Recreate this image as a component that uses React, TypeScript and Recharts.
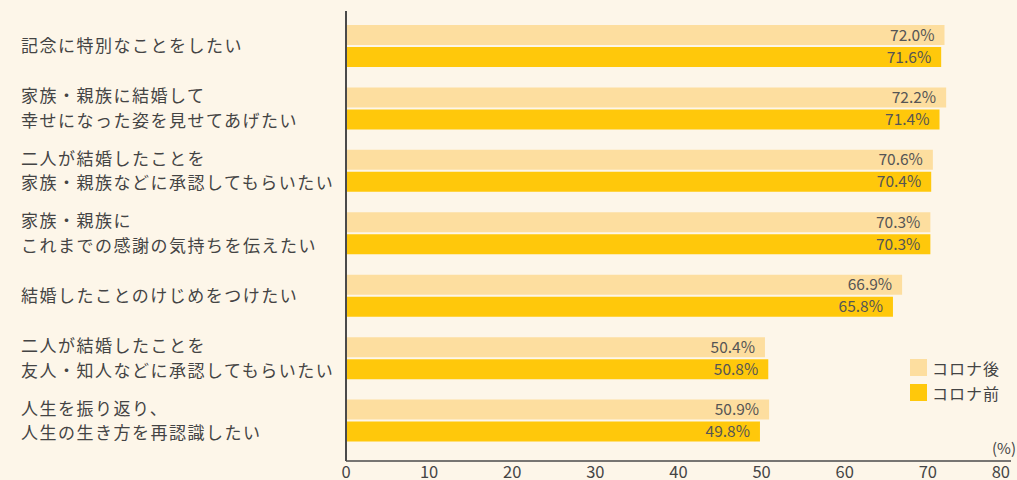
import { BarChart, Bar, XAxis, YAxis, LabelList, Legend } from "recharts";

const categories = [
  "記念に特別なことをしたい",
  "家族・親族に結婚して\n幸せになった姿を見せてあげたい",
  "二人が結婚したことを\n家族・親族などに承認してもらいたい",
  "家族・親族に\nこれまでの感謝の気持ちを伝えたい",
  "結婚したことのけじめをつけたい",
  "二人が結婚したことを\n友人・知人などに承認してもらいたい",
  "人生を振り返り、\n人生の生き方を再認識したい",
];
const afterCorona = [72.0, 72.2, 70.6, 70.3, 66.9, 50.4, 50.9];
const beforeCorona = [71.6, 71.4, 70.4, 70.3, 65.8, 50.8, 49.8];
const seriesNames = ["コロナ後", "コロナ前"];
const xTicks = [0, 10, 20, 30, 40, 50, 60, 70, 80];

const rows = categories.map((label, i) => ({
  label,
  after: afterCorona[i],
  before: beforeCorona[i],
}));

const TEXT = "#444";

const CategoryTick = (props: any) => {
  const { y, payload } = props;
  const lines = String(payload.value).split("\n");
  const lineGap = 24.5;
  return (
    <text fill={TEXT} fontSize={17} letterSpacing={1.5} textAnchor="start">
      {lines.map((line, i) => (
        <tspan key={i} x={21} y={y + (i - (lines.length - 1) / 2) * lineGap + 6}>
          {line}
        </tspan>
      ))}
    </text>
  );
};

const NumberTick = (props: any) => {
  const { x, y, payload } = props;
  const last = payload.value === xTicks[xTicks.length - 1];
  return (
    <text x={last ? x + 1 : x} y={y + 16.5} fill={TEXT} fontSize={16.5} textAnchor={last ? "end" : "middle"}>
      {payload.value}
    </text>
  );
};

const LegendBox = (props: any) => {
  const items = [...(props.payload || [])].sort(
    (a: any, b: any) => seriesNames.indexOf(a.value) - seriesNames.indexOf(b.value)
  );
  return (
    <div>
      {items.map((item: any) => (
        <div key={item.value} style={{ display: "flex", alignItems: "center", height: 25 }}>
          <span style={{ width: 17, height: 17, background: item.color, display: "inline-block", marginRight: 5 }} />
          <span style={{ fontSize: 16, color: TEXT, letterSpacing: 1 }}>{item.value}</span>
        </div>
      ))}
    </div>
  );
};

const pct = (v: any) => `${Number(v).toFixed(1)}%`;

export default function App() {
  return (
    <div
      style={{
        position: "absolute",
        left: 0,
        top: 0,
        width: 1017,
        height: 480,
        background: "#fdf6e9",
        fontFamily: "'Noto Sans CJK JP', sans-serif",
      }}
    >
      <BarChart
        layout="vertical"
        width={1017}
        height={480}
        data={rows}
        margin={{ top: 11, right: 6, bottom: 0, left: 0 }}
        barSize={20}
        barGap={2}
      >
        <XAxis
          type="number"
          domain={[0, 80]}
          ticks={xTicks}
          height={19}
          tickLine={false}
          tickSize={0}
          tickMargin={0}
          axisLine={{ stroke: "#4a4a4a", strokeWidth: 1.5 }}
          tick={<NumberTick />}
        />
        <YAxis
          type="category"
          dataKey="label"
          width={346}
          interval={0}
          tickLine={false}
          axisLine={{ stroke: "#4a4a4a", strokeWidth: 2 }}
          padding={{ top: 4, bottom: 9 }}
          tick={<CategoryTick />}
        />
        <Legend
          layout="vertical"
          align="center"
          verticalAlign="middle"
          content={<LegendBox />}
          wrapperStyle={{ left: 910, top: 355, width: 110, right: "auto", bottom: "auto", margin: 0 }}
        />
        <Bar dataKey="after" name={seriesNames[0]} fill="#fdde9f" isAnimationActive={false}>
          <LabelList dataKey="after" position="insideRight" offset={10} fill="#555" fontSize={15.5} formatter={pct} />
        </Bar>
        <Bar dataKey="before" name={seriesNames[1]} fill="#ffc80b" isAnimationActive={false}>
          <LabelList dataKey="before" position="insideRight" offset={10} fill="#555" fontSize={15.5} formatter={pct} />
        </Bar>
      </BarChart>
      <span style={{ position: "absolute", right: 1, top: 440, fontSize: 15, lineHeight: "15px", color: TEXT }}>(%)</span>
    </div>
  );
}
